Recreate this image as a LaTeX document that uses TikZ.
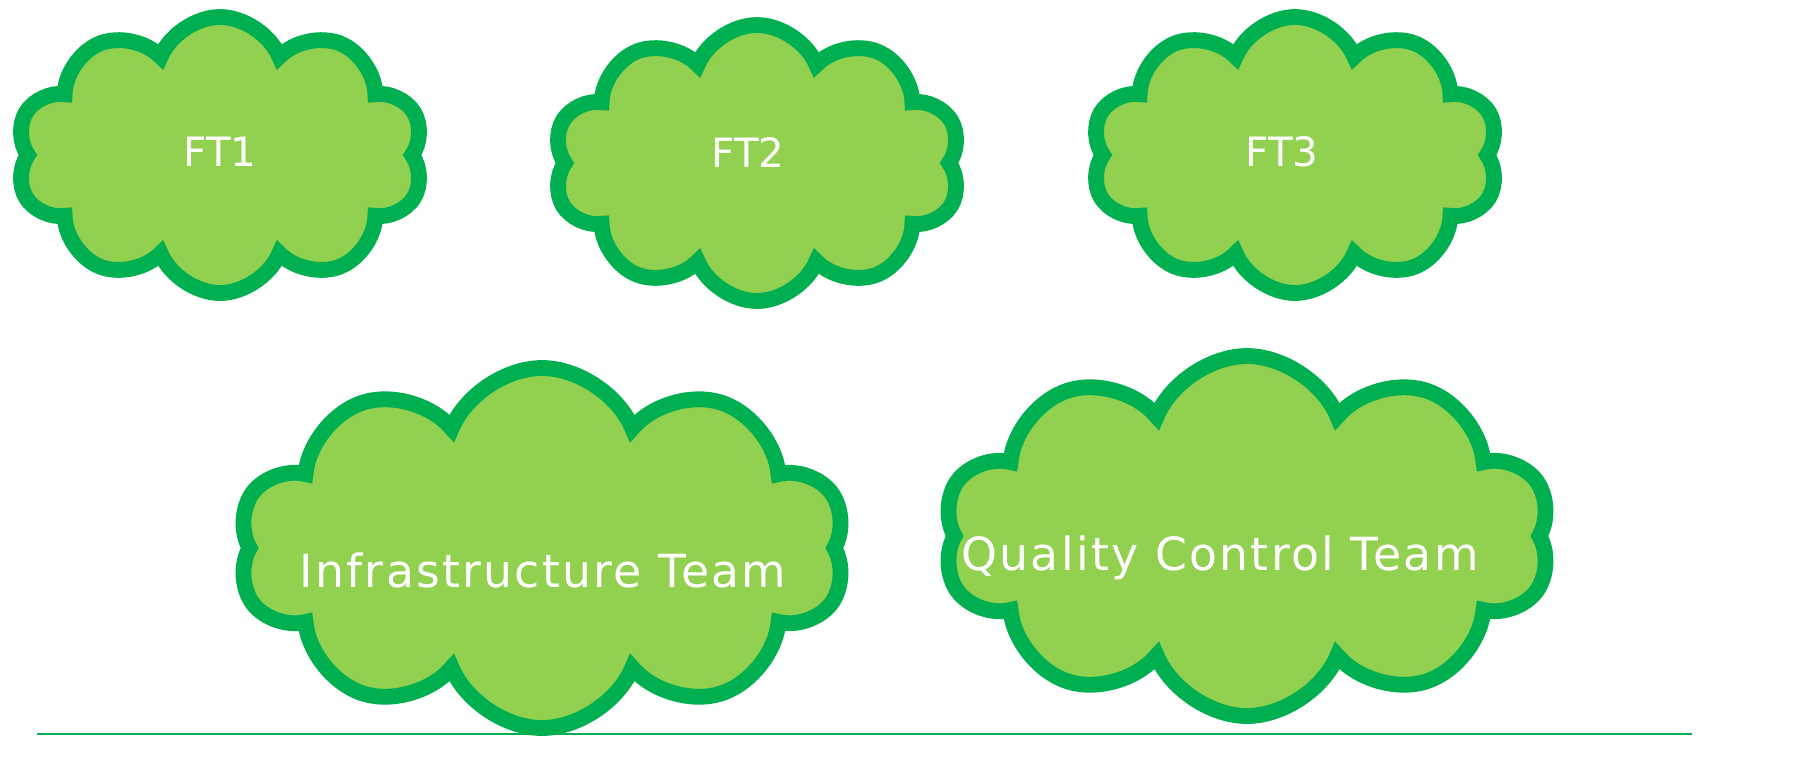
\documentclass[tikz,border=0pt]{standalone}
\usepackage{fontspec}
\setmainfont{DejaVu Sans}
\newfontfamily\teamfont[LetterSpace=5]{DejaVu Sans}
\usetikzlibrary{shapes.symbols}
\definecolor{cloudfill}{HTML}{92D050}
\definecolor{cloudline}{HTML}{00B050}
\tikzset{
	cloudbox/.style={cloud, cloud puffs=10, cloud puff arc=135, cloud ignores aspect, draw=cloudline, fill=cloudfill, line width=4.5pt, inner sep=0pt},
	ftcloud/.style={cloudbox, minimum width=4.08cm, minimum height=2.76cm},
	teamcloud/.style={cloudbox, minimum width=6.08cm, minimum height=3.60cm},
	cloudtext/.style={text=white, inner sep=0pt}
}
\begin{document}
\begin{tikzpicture}
	\useasboundingbox (0,0) rectangle (17.93,-7.61);
	\node (ft1)	at ( 2.20, -1.55)	[ftcloud]	{};
	\node (ft2)	at ( 7.57, -1.63)	[ftcloud]	{};
	\node (ft3)	at (12.95, -1.55)	[ftcloud]	{};
	\node (infra)	at ( 5.42, -5.48)	[teamcloud]	{};
	\node (qc)	at (12.47, -5.36)	[teamcloud]	{};
	\node (ft1txt)	at ( 2.20, -1.52)	[cloudtext, font=\fontsize{11.5}{14}\selectfont]	{FT1};
	\node (ft2txt)	at ( 7.48, -1.52)	[cloudtext, font=\fontsize{11.5}{14}\selectfont]	{FT2};
	\node (ft3txt)	at (12.82, -1.52)	[cloudtext, font=\fontsize{11.5}{14}\selectfont]	{FT3};
	\node (infratxt)	at ( 5.43, -5.70)	[cloudtext, font=\teamfont\fontsize{13}{16}\selectfont]	{Infrastructure Team};
	\node (qctxt)	at (12.20, -5.58)	[cloudtext, font=\teamfont\fontsize{13}{16}\selectfont]	{Quality Control Team};
	\coordinate (baseL) at ( 0.37, -7.34);
	\coordinate (baseR) at (16.92, -7.34);
	\draw[cloudline, line width=0.6pt] (baseL) -- (baseR);
\end{tikzpicture}
\end{document}
